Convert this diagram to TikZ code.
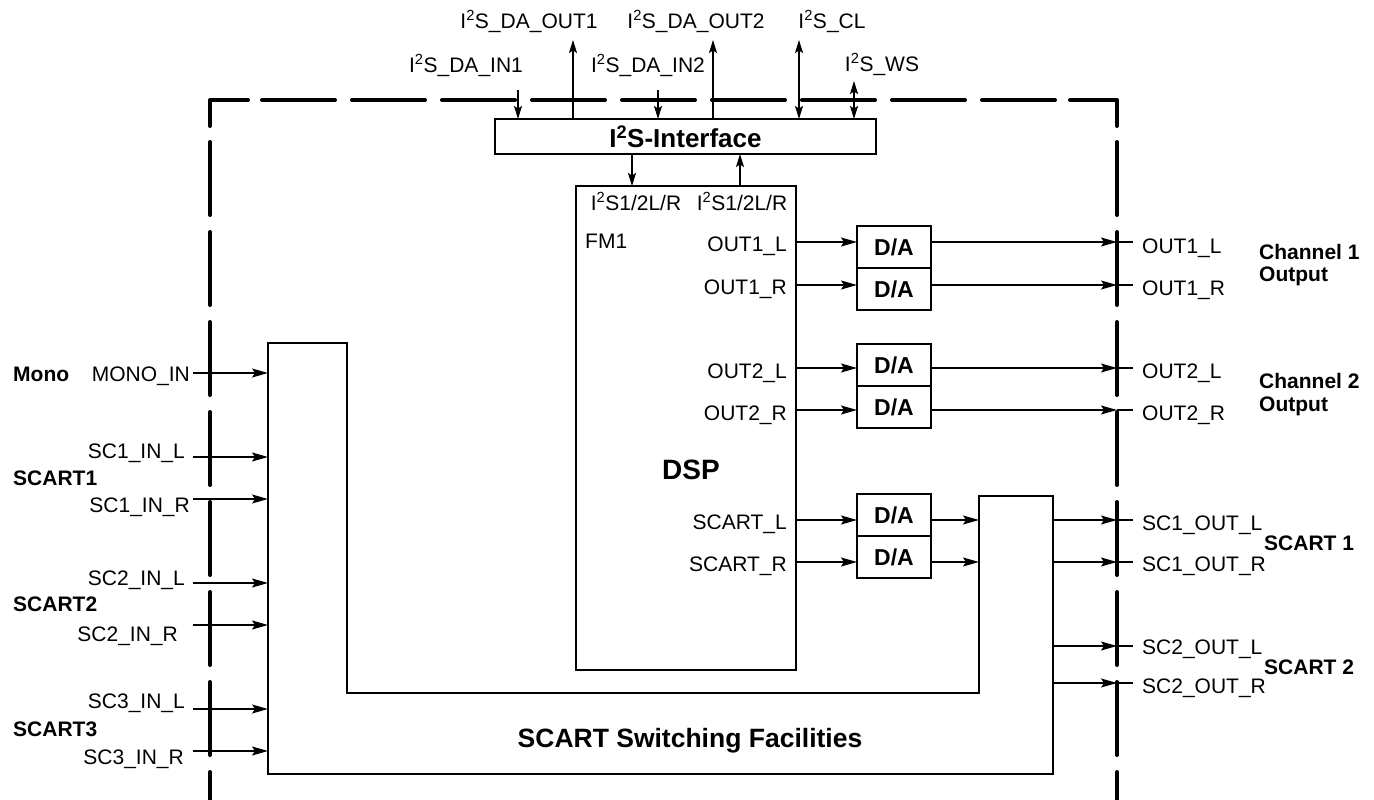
\documentclass[tikz,border=0pt]{standalone}
\usepackage{fontspec}
\setmainfont{Liberation Sans}
\usetikzlibrary{arrows.meta}
\begin{document}
\begin{tikzpicture}[x=1pt,y=-1pt,
  lbl/.style={font=\fontsize{21}{25}\selectfont, inner sep=0pt, text height=15pt, text depth=0pt},
  blbl/.style={lbl, font=\bfseries\fontsize{21}{25}\selectfont},
  box/.style={draw, line width=2.5pt, inner sep=0pt, outer sep=0pt, anchor=north west},
  dabox/.style={box, minimum width=74pt, minimum height=42pt, font=\bfseries\fontsize{23}{27}\selectfont},
  conn/.style={line width=1.4pt},
  arr/.style={conn, -{Stealth[length=16pt,width=9pt,inset=3pt]}},
  varr/.style={conn, -{Stealth[length=13pt,width=8pt,inset=2.5pt]}},
  dblarr/.style={conn, {Stealth[length=13pt,width=8pt,inset=2.5pt]}-{Stealth[length=13pt,width=8pt,inset=2.5pt]}},
  bound/.style={line width=4pt, line cap=round, line join=round}
]
\useasboundingbox (0,0) rectangle (1374,800);

% ---------- dashed chip boundary ----------
\draw[bound] (210,126) -- (210,100) -- (248,100);
\foreach \k in {0,...,8} \draw[bound] ({262+90*\k},100) -- ({335+90*\k},100);
\draw[bound] (1070,100) -- (1117,100) -- (1117,126);
\foreach \k in {0,...,7} {
  \draw[bound] (210,{142+90*\k}) -- (210,{215+90*\k});
  \draw[bound] (1117,{142+90*\k}) -- (1117,{215+90*\k});
}

% ---------- blocks ----------
\node[box, minimum width=381pt, minimum height=35pt, font=\bfseries\fontsize{26}{30}\selectfont] (i2s) at (495,119) {I\textsuperscript{2}S-Interface};
\node[box, minimum width=220pt, minimum height=484pt] (dsp) at (576,186) {};
\node[blbl, font=\bfseries\fontsize{28}{32}\selectfont, text height=20pt] (dsplbl) at (691,469) {DSP};

\node[dabox] (da1) at (857,226) {D/A};
\node[dabox] (da2) at (857,268) {D/A};
\node[dabox] (da3) at (857,344) {D/A};
\node[dabox] (da4) at (857,386) {D/A};
\node[dabox] (da5) at (857,494) {D/A};
\node[dabox] (da6) at (857,536) {D/A};

% SCART switching facilities (U shape)
\coordinate (swl) at (268,343);
\coordinate (swr) at (979,496);
\coordinate (swo) at (1053,496);
\draw[line width=2.5pt] (swl) -- (347,343) -- (347,693) -- (979,693) -- (swr) -- (swo) -- (1053,774) -- (268,774) -- cycle;
\node[blbl, font=\bfseries\fontsize{26.5}{30}\selectfont, text height=19pt] (swlbl) at (690,738) {SCART Switching Facilities};

% ---------- DSP inner labels ----------
\node[lbl] (dspin) at (636,203) {I\textsuperscript{2}S1/2L/R};
\node[lbl] (dspout) at (742,203) {I\textsuperscript{2}S1/2L/R};
\node[lbl, anchor=west] (fm1) at (585,241) {FM1};
\node[lbl, anchor=east] (po1l) at (787,244) {OUT1\_L};
\node[lbl, anchor=east] (po1r) at (787,287) {OUT1\_R};
\node[lbl, anchor=east] (po2l) at (787,371) {OUT2\_L};
\node[lbl, anchor=east] (po2r) at (787,413) {OUT2\_R};
\node[lbl, anchor=east] (pscl) at (787,522) {SCART\_L};
\node[lbl, anchor=east] (pscr) at (787,564) {SCART\_R};

% ---------- I2S interface signals ----------
\node[lbl] (tin1lbl) at (466,65) {I\textsuperscript{2}S\_DA\_IN1};
\node[lbl] (tout1lbl) at (529,21) {I\textsuperscript{2}S\_DA\_OUT1};
\node[lbl] (tin2lbl) at (648,65) {I\textsuperscript{2}S\_DA\_IN2};
\node[lbl] (tout2lbl) at (696,21) {I\textsuperscript{2}S\_DA\_OUT2};
\node[lbl] (tcllbl) at (832,21) {I\textsuperscript{2}S\_CL};
\node[lbl] (twslbl) at (882,64) {I\textsuperscript{2}S\_WS};

\coordinate (tin1) at (518,90);
\coordinate (tout1) at (573,40);
\coordinate (tin2) at (658,90);
\coordinate (tout2) at (713,40);
\coordinate (tcl) at (799,40);
\coordinate (tws) at (854,81);
\draw[varr] (tin1) -- (tin1 |- i2s.north);
\draw[varr] (tout1 |- i2s.north) -- (tout1);
\draw[varr] (tin2) -- (tin2 |- i2s.north);
\draw[varr] (tout2 |- i2s.north) -- (tout2);
\draw[dblarr] (tcl) -- (tcl |- i2s.north);
\draw[dblarr] (tws) -- (tws |- i2s.north);

\coordinate (xd) at (632,0);
\coordinate (xu) at (740,0);
\draw[varr] (xd |- i2s.south) -- (xd |- dsp.north);
\draw[varr] (xu |- dsp.north) -- (xu |- i2s.south);

% ---------- DSP -> D/A -> outputs ----------
\coordinate (y1) at (0,242);
\coordinate (y2) at (0,285);
\coordinate (y3) at (0,368);
\coordinate (y4) at (0,410);
\coordinate (y5) at (0,520);
\coordinate (y6) at (0,562);
\coordinate (y7) at (0,646);
\coordinate (y8) at (0,683);
\coordinate (bR) at (1117,0);
\coordinate (eR) at (1133,0);

\draw[arr] (dsp.east |- y1) -- (da1.west |- y1);
\draw[arr] (dsp.east |- y2) -- (da2.west |- y2);
\draw[arr] (dsp.east |- y3) -- (da3.west |- y3);
\draw[arr] (dsp.east |- y4) -- (da4.west |- y4);
\draw[arr] (dsp.east |- y5) -- (da5.west |- y5);
\draw[arr] (dsp.east |- y6) -- (da6.west |- y6);

\draw[arr] (da1.east |- y1) -- (bR |- y1);
\draw[arr] (da2.east |- y2) -- (bR |- y2);
\draw[arr] (da3.east |- y3) -- (bR |- y3);
\draw[arr] (da4.east |- y4) -- (bR |- y4);
\draw[arr] (da5.east |- y5) -- (swr |- y5);
\draw[arr] (da6.east |- y6) -- (swr |- y6);
\draw[arr] (swo |- y5) -- (bR |- y5);
\draw[arr] (swo |- y6) -- (bR |- y6);
\draw[arr] (swo |- y7) -- (bR |- y7);
\draw[arr] (swo |- y8) -- (bR |- y8);
\foreach \yy in {y1,y2,y3,y4,y5,y6,y7,y8} \draw[conn] (bR |- \yy) -- (eR |- \yy);

\node[lbl, anchor=west] (o1l) at (1142,246) {OUT1\_L};
\node[lbl, anchor=west] (o1r) at (1142,288) {OUT1\_R};
\node[lbl, anchor=west] (o2l) at (1142,371) {OUT2\_L};
\node[lbl, anchor=west] (o2r) at (1142,413) {OUT2\_R};
\node[lbl, anchor=west] (s1l) at (1142,523) {SC1\_OUT\_L};
\node[lbl, anchor=west] (s1r) at (1142,564) {SC1\_OUT\_R};
\node[lbl, anchor=west] (s2l) at (1142,647) {SC2\_OUT\_L};
\node[lbl, anchor=west] (s2r) at (1142,686) {SC2\_OUT\_R};

\node[blbl, anchor=west] (ch1a) at (1259,252) {Channel 1};
\node[blbl, anchor=west] (ch1b) at (1259,274) {Output};
\node[blbl, anchor=west] (ch2a) at (1259,381) {Channel 2};
\node[blbl, anchor=west] (ch2b) at (1259,404) {Output};
\node[blbl, anchor=west] (sc1) at (1264,543) {SCART 1};
\node[blbl, anchor=west] (sc2) at (1264,667) {SCART 2};

% ---------- left inputs ----------
\coordinate (lS) at (193,0);
\coordinate (i1) at (0,373);
\coordinate (i2) at (0,457);
\coordinate (i3) at (0,499);
\coordinate (i4) at (0,583);
\coordinate (i5) at (0,625);
\coordinate (i6) at (0,709);
\coordinate (i7) at (0,751);
\foreach \yy in {i1,i2,i3,i4,i5,i6,i7} \draw[arr] (lS |- \yy) -- (swl |- \yy);

\node[lbl, anchor=east] (monoin) at (190,374) {MONO\_IN};
\node[lbl, anchor=east] (sc1l) at (185,451) {SC1\_IN\_L};
\node[lbl, anchor=east] (sc1r) at (190,505) {SC1\_IN\_R};
\node[lbl, anchor=east] (sc2l) at (185,578) {SC2\_IN\_L};
\node[lbl, anchor=east] (sc2r) at (178,634) {SC2\_IN\_R};
\node[lbl, anchor=east] (sc3l) at (185,701) {SC3\_IN\_L};
\node[lbl, anchor=east] (sc3r) at (184,757) {SC3\_IN\_R};

\node[blbl, anchor=west] (mono) at (13,374) {Mono};
\node[blbl, anchor=west] (scart1) at (13,478) {SCART1};
\node[blbl, anchor=west] (scart2) at (13,604) {SCART2};
\node[blbl, anchor=west] (scart3) at (13,729) {SCART3};
\end{tikzpicture}
\end{document}
